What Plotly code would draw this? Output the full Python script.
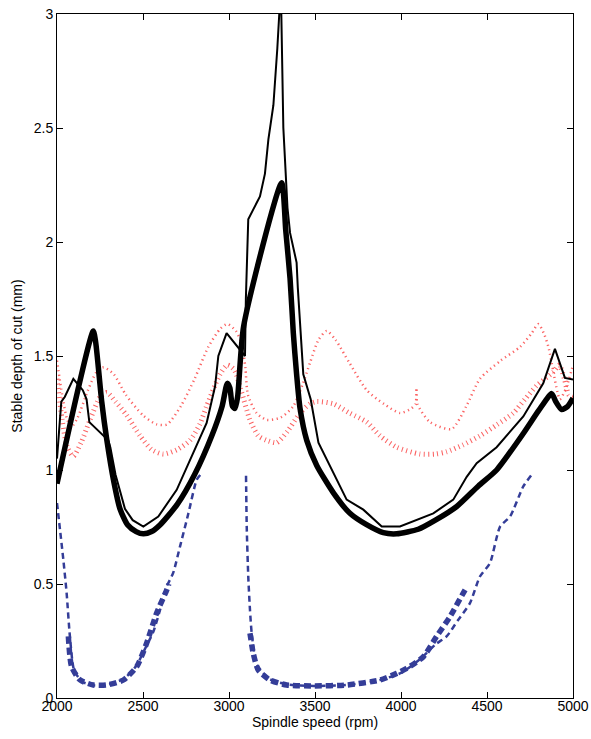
import plotly.graph_objects as go

# Thick solid black curve
thick_x = [2000, 2211, 2225, 2260, 2290, 2330, 2366, 2410, 2460, 2502, 2550, 2600, 2700, 2800, 2900, 2960,
           2990, 3005, 3020, 3035, 3050, 3085, 3306, 3330, 3355, 3374, 3393, 3413, 3452, 3510, 3607, 3703,
           3800, 3897, 3975, 4100, 4200, 4324, 4450, 4556, 4711, 4800, 4876, 4900, 4934, 4970, 5000]
thick_y = [0.94, 1.61, 1.56, 1.30, 1.13, 0.95, 0.83, 0.76, 0.73, 0.72, 0.73, 0.76, 0.85, 0.98, 1.15, 1.28,
           1.38, 1.36, 1.28, 1.27, 1.32, 1.63, 2.26, 2.05, 1.84, 1.60, 1.42, 1.27, 1.13, 1.02, 0.90, 0.81,
           0.76, 0.725, 0.72, 0.74, 0.78, 0.84, 0.93, 1.00, 1.16, 1.26, 1.335, 1.30, 1.265, 1.28, 1.315]

# Thin solid black curve
thin_x = [2000, 2025, 2045, 2095, 2150, 2172, 2188, 2230, 2269, 2298, 2310, 2340, 2395, 2440, 2502, 2589,
          2696, 2802, 2870, 2919, 2938, 2986, 3074, 3093, 3098, 3103, 3112, 3180, 3209, 3229, 3258, 3281,
          3296, 3303, 3316, 3340, 3355, 3393, 3400, 3432, 3475, 3520, 3568, 3684, 3781, 3888, 3994, 4188,
          4304, 4382, 4440, 4556, 4711, 4827, 4895, 4953, 5000]
thin_y = [1.05, 1.30, 1.32, 1.40, 1.35, 1.31, 1.21, 1.18, 1.15, 1.13, 1.10, 0.98, 0.83, 0.78, 0.752, 0.796,
          0.913, 1.089, 1.206, 1.367, 1.50, 1.60, 1.52, 1.50, 1.75, 1.91, 2.10, 2.20, 2.30, 2.45, 2.60, 2.85,
          3.05, 3.05, 2.50, 2.15, 2.04, 1.91, 1.80, 1.42, 1.31, 1.12, 1.045, 0.87, 0.826, 0.752, 0.752, 0.81,
          0.87, 0.97, 1.03, 1.10, 1.235, 1.38, 1.531, 1.404, 1.397]

# Red fine dotted curve (upper)
red1_x = [2000, 2030, 2060, 2085, 2120, 2180, 2230, 2270, 2330, 2400, 2500, 2580, 2640, 2720, 2800, 2880,
          2950, 2990, 3040, 3075, 3095, 3110, 3160, 3219, 3300, 3374, 3430, 3471, 3520, 3568, 3620, 3700,
          3801, 3900, 3994, 4060, 4085, 4090, 4095, 4169, 4294, 4380, 4459, 4580, 4692, 4760, 4798, 4830,
          4857, 4886, 4910, 4924, 4960, 5000]
red1_y = [1.48, 1.33, 1.22, 1.19, 1.23, 1.35, 1.43, 1.45, 1.42, 1.33, 1.24, 1.20, 1.20, 1.28, 1.40, 1.54,
          1.62, 1.64, 1.61, 1.55, 1.45, 1.33, 1.25, 1.22, 1.23, 1.28, 1.38, 1.47, 1.57, 1.61, 1.57, 1.47,
          1.35, 1.29, 1.25, 1.27, 1.29, 1.36, 1.29, 1.21, 1.18, 1.28, 1.40, 1.48, 1.54, 1.60, 1.64, 1.60,
          1.54, 1.43, 1.34, 1.31, 1.36, 1.46]

# Red heavy dotted curve (lower)
red2_x = [2000, 2030, 2060, 2095, 2140, 2192, 2250, 2290, 2340, 2405, 2483, 2550, 2618, 2700, 2773, 2830,
          2870, 2948, 2990, 3030, 3070, 3122, 3170, 3219, 3277, 3340, 3413, 3470, 3510, 3607, 3700, 3801,
          3878, 3975, 4110, 4200, 4265, 4360, 4459, 4560, 4653, 4720, 4789, 4886, 4920, 4950, 4975, 5000]
red2_y = [1.40, 1.22, 1.10, 1.06, 1.12, 1.22, 1.32, 1.34, 1.30, 1.24, 1.15, 1.09, 1.07, 1.09, 1.13, 1.20,
          1.28, 1.42, 1.46, 1.44, 1.35, 1.22, 1.15, 1.13, 1.12, 1.17, 1.25, 1.29, 1.30, 1.29, 1.25, 1.21,
          1.15, 1.10, 1.07, 1.07, 1.08, 1.11, 1.15, 1.20, 1.25, 1.31, 1.37, 1.43, 1.46, 1.40, 1.33, 1.32]

# Blue thin dashed (two lobes)
blue1a_x = [2000, 2037, 2056, 2075, 2100, 2150, 2220, 2300, 2390, 2460, 2521, 2560, 2599, 2638, 2676, 2715,
            2764, 2812, 2835]
blue1a_y = [0.855, 0.606, 0.46, 0.27, 0.12, 0.07, 0.055, 0.06, 0.085, 0.14, 0.23, 0.29, 0.386, 0.489, 0.55,
            0.664, 0.81, 0.957, 0.98]
blue1b_x = [3099, 3103, 3112, 3122, 3132, 3160, 3230, 3335, 3490, 3684, 3878, 4000, 4110, 4200, 4265, 4330,
            4401, 4459, 4517, 4576, 4634, 4711, 4760]
blue1b_y = [0.975, 0.752, 0.533, 0.386, 0.284, 0.15, 0.085, 0.06, 0.053, 0.057, 0.079, 0.11, 0.17, 0.235,
            0.27, 0.34, 0.416, 0.533, 0.591, 0.752, 0.796, 0.928, 0.98]

# Blue thick dashed (two lobes)
blue2a_x = [2066, 2085, 2134, 2211, 2289, 2386, 2463, 2521, 2579, 2638, 2650]
blue2a_y = [0.27, 0.137, 0.079, 0.057, 0.057, 0.079, 0.137, 0.24, 0.372, 0.474, 0.50]
blue2b_x = [3122, 3141, 3170, 3238, 3335, 3490, 3684, 3878, 3975, 4033, 4130, 4207, 4285, 4362, 4385]
blue2b_y = [0.284, 0.196, 0.123, 0.079, 0.057, 0.053, 0.057, 0.079, 0.108, 0.13, 0.181, 0.27, 0.357, 0.46, 0.49]

x_ticks = [2000, 2500, 3000, 3500, 4000, 4500, 5000]
y_ticks = [0, 0.5, 1, 1.5, 2, 2.5, 3]
y_tick_text = ["0", "0.5", "1", "1.5", "2", "2.5", "3"]

RED = "rgba(250,70,70,0.85)"
BLUE = "#343d98"
FONT = "Liberation Sans, Arial, sans-serif"

fig = go.Figure()

fig.add_trace(go.Scatter(x=red1_x, y=red1_y, mode="lines",
                         line=dict(color=RED, width=2.5, dash="1.2px,3.5px", shape="spline", smoothing=0.7)))
fig.add_trace(go.Scatter(x=red2_x, y=red2_y, mode="lines",
                         line=dict(color=RED, width=5, dash="1px,3.5px", shape="spline", smoothing=0.7)))

for bx, by in [(blue1a_x, blue1a_y), (blue1b_x, blue1b_y)]:
    fig.add_trace(go.Scatter(x=bx, y=by, mode="lines",
                             line=dict(color=BLUE, width=2.5, dash="6px,4px", shape="spline", smoothing=0.6)))
for bx, by in [(blue2a_x, blue2a_y), (blue2b_x, blue2b_y)]:
    fig.add_trace(go.Scatter(x=bx, y=by, mode="lines",
                             line=dict(color=BLUE, width=5.5, dash="7px,4px", shape="spline", smoothing=0.6)))

fig.add_trace(go.Scatter(x=thin_x, y=thin_y, mode="lines",
                         line=dict(color="black", width=2)))
fig.add_trace(go.Scatter(x=thick_x, y=thick_y, mode="lines",
                         line=dict(color="black", width=5.5, shape="spline", smoothing=0.6)))

axis_common = dict(showline=True, linecolor="black", linewidth=1, mirror="ticks",
                   ticks="inside", ticklen=6, tickcolor="black", tickwidth=1,
                   showgrid=False, zeroline=False, automargin=False)

fig.update_layout(
    width=591, height=739,
    margin=dict(l=57, r=18, t=14, b=41),
    paper_bgcolor="white", plot_bgcolor="white",
    showlegend=False,
    font=dict(family=FONT, size=14, color="black"),
    xaxis=dict(range=[2000, 5000], tickvals=x_ticks, ticktext=[str(v) for v in x_ticks],
               ticklabelstandoff=-5,
               tickfont=dict(family=FONT, size=14, color="black"),
               **axis_common),
    yaxis=dict(range=[0, 3], tickvals=y_ticks, ticktext=y_tick_text,
               tickfont=dict(family=FONT, size=14, color="black"),
               title=dict(text="Stable depth of cut (mm)", standoff=7, font=dict(family=FONT, size=14)),
               **axis_common),
    annotations=[dict(text="Spindle speed (rpm)", xref="paper", yref="paper", x=0.5, y=0,
                      xanchor="center", yanchor="middle", yshift=-24, showarrow=False,
                      font=dict(family=FONT, size=14, color="black"))],
)

fig.write_html("out.html")
